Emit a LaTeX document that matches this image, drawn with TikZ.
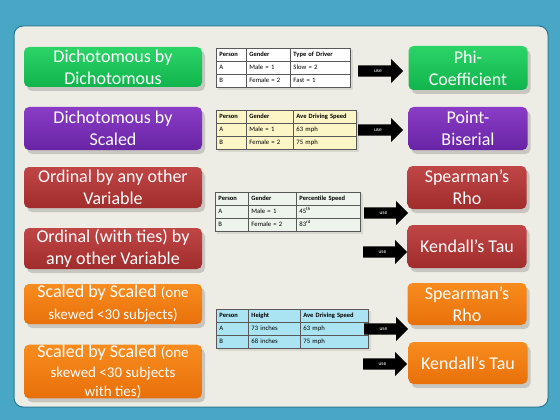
\documentclass[tikz,border=0pt]{standalone}
\usepackage{fontspec}
\setmainfont{Carlito}
\usetikzlibrary{positioning, matrix, shapes.arrows, shadows}
\definecolor{frame}{RGB}{72,167,196}
\definecolor{frameline}{RGB}{40,120,148}
\definecolor{panel}{RGB}{238,237,229}
\definecolor{tabline}{gray}{0.35}
\definecolor{grnTop}{RGB}{44,212,104}
\definecolor{grnBot}{RGB}{16,180,76}
\definecolor{prpTop}{RGB}{138,60,198}
\definecolor{prpBot}{RGB}{104,36,164}
\definecolor{redTop}{RGB}{192,70,70}
\definecolor{redBot}{RGB}{160,44,44}
\definecolor{orgTop}{RGB}{248,140,30}
\definecolor{orgBot}{RGB}{232,112,10}
\definecolor{tabYel}{RGB}{252,246,198}
\definecolor{tabGrn}{RGB}{236,244,236}
\definecolor{tabCyn}{RGB}{170,228,242}
\newcommand{\smtxt}[1]{{\fontsize{15}{20}\selectfont #1}}

\begin{document}
\begin{tikzpicture}[x=1pt, y=-1pt,
  box/.style={rounded corners=5pt, text=white, align=center, inner sep=0pt,
    font=\fontsize{18}{22}\selectfont,
    drop shadow={shadow xshift=3pt, shadow yshift=-4pt, opacity=.35}},
  lbox/.style={box, minimum width=178pt},
  rbox/.style={box, minimum width=119pt},
  grnbox/.style={top color=grnTop, bottom color=grnBot},
  prpbox/.style={top color=prpTop, bottom color=prpBot},
  redbox/.style={top color=redTop, bottom color=redBot},
  orgbox/.style={top color=orgTop, bottom color=orgBot},
  usearrow/.style={single arrow, fill=black, text=white,
    font=\fontsize{5.5}{6}\selectfont, single arrow head extend=6.5pt,
    single arrow head indent=0pt, inner xsep=2pt, inner ysep=2.5pt,
    text height=4.5pt, text depth=1.2pt, minimum height=44pt, anchor=tail},
  cell/.style={draw=tabline, line width=.5pt, align=left, inner xsep=3pt,
    inner ysep=0pt, minimum height=13pt, text height=5pt, text depth=1.5pt,
    font=\fontsize{6.7}{7}\selectfont},
  datatab/.style n args={4}{matrix of nodes, inner sep=0pt, anchor=north west,
    row sep=-.5pt, column sep=-.5pt, nodes={cell, fill=#4},
    column 1/.style={nodes={text width=#1}},
    column 2/.style={nodes={text width=#2}},
    column 3/.style={nodes={text width=#3}},
    row 1/.style={nodes={font=\fontsize{6.5}{7}\selectfont\bfseries}},
    drop shadow={shadow xshift=2pt, shadow yshift=-2pt, opacity=.2}}
]
\useasboundingbox (0,0) rectangle (560,420);
\fill[frame] (0,0) rectangle (560,420);
\draw[frameline, fill=panel, line width=1pt, rounded corners=9pt] (14,26) rectangle (548,407);

% left column: what kind of variables
\node[lbox, grnbox, minimum height=40pt] (dichDich) at (113,67) {Dichotomous by\\Dichotomous};
\node[lbox, prpbox, minimum height=43pt] (dichScal) at (113,128.5) {Dichotomous by\\Scaled};
\node[lbox, redbox, minimum height=41pt] (ordAny) at (113,187.5) {Ordinal by any other\\Variable};
\node[lbox, redbox, minimum height=41pt] (ordTies) at (113,248.5) {Ordinal (with ties) by\\any other Variable};
\node[lbox, orgbox, minimum height=40pt] (scalSkew) at (113,304) {Scaled by Scaled \smtxt{(one}\\\smtxt{skewed <30 subjects)}};
\node[lbox, orgbox, minimum height=53pt] (scalTies) at (113,371.5)
  {Scaled by Scaled \smtxt{(one}\\[-2pt]\smtxt{skewed <30 subjects}\\[-3pt]\smtxt{with ties)}};

% example data tables
\matrix (tabA) [datatab={24pt}{38pt}{54pt}{white}] at (216,48) {
  Person & Gender & Type of Driver\\
  A & Male = 1 & Slow = 2\\
  B & Female = 2 & Fast = 1\\
};
\matrix (tabB) [datatab={24pt}{41pt}{57pt}{tabYel}] at (216,110) {
  Person & Gender & Ave Driving Speed\\
  A & Male = 1 & 63 mph\\
  B & Female = 2 & 75 mph\\
};
\matrix (tabC) [datatab={27pt}{42pt}{58pt}{tabGrn}] at (215,192) {
  Person & Gender & Percentile Speed\\
  A & Male = 1 & 45\textsuperscript{th}\\
  B & Female = 2 & 83\textsuperscript{rd}\\
};
\matrix (tabD) [datatab={26pt}{46pt}{62pt}{tabCyn}] at (216,309) {
  Person & Height & Ave Driving Speed\\
  A & 73 inches & 63 mph\\
  B & 68 inches & 75 mph\\
};

% block arrows
\node[usearrow, minimum height=45pt] (useA) at (358,71) {use};
\node[usearrow, minimum height=45pt] (useB) at (358,130) {use};
\node[usearrow] (useC) at (364,213) {use};
\node[usearrow] (useD) at (363,252) {use};
\node[usearrow] (useE) at (364,329) {use};
\node[usearrow] (useF) at (363,364) {use};

% right column: which coefficient
\node[rbox, grnbox, minimum height=44pt] (phiCoef) at (468,68) {Phi-\\Coefficient};
\node[rbox, prpbox, minimum height=43pt] (ptBis) at (468,128.5) {Point-\\Biserial};
\node[rbox, redbox, minimum height=43pt] (spearA) at (467,187.5) {Spearman’s\\Rho};
\node[rbox, redbox, minimum height=43pt] (kendA) at (467,246.5) {Kendall’s Tau};
\node[rbox, orgbox, minimum height=42pt] (spearB) at (467,304) {Spearman’s\\Rho};
\node[rbox, orgbox, minimum height=42pt] (kendB) at (468,363) {Kendall’s Tau};
\end{tikzpicture}
\end{document}
